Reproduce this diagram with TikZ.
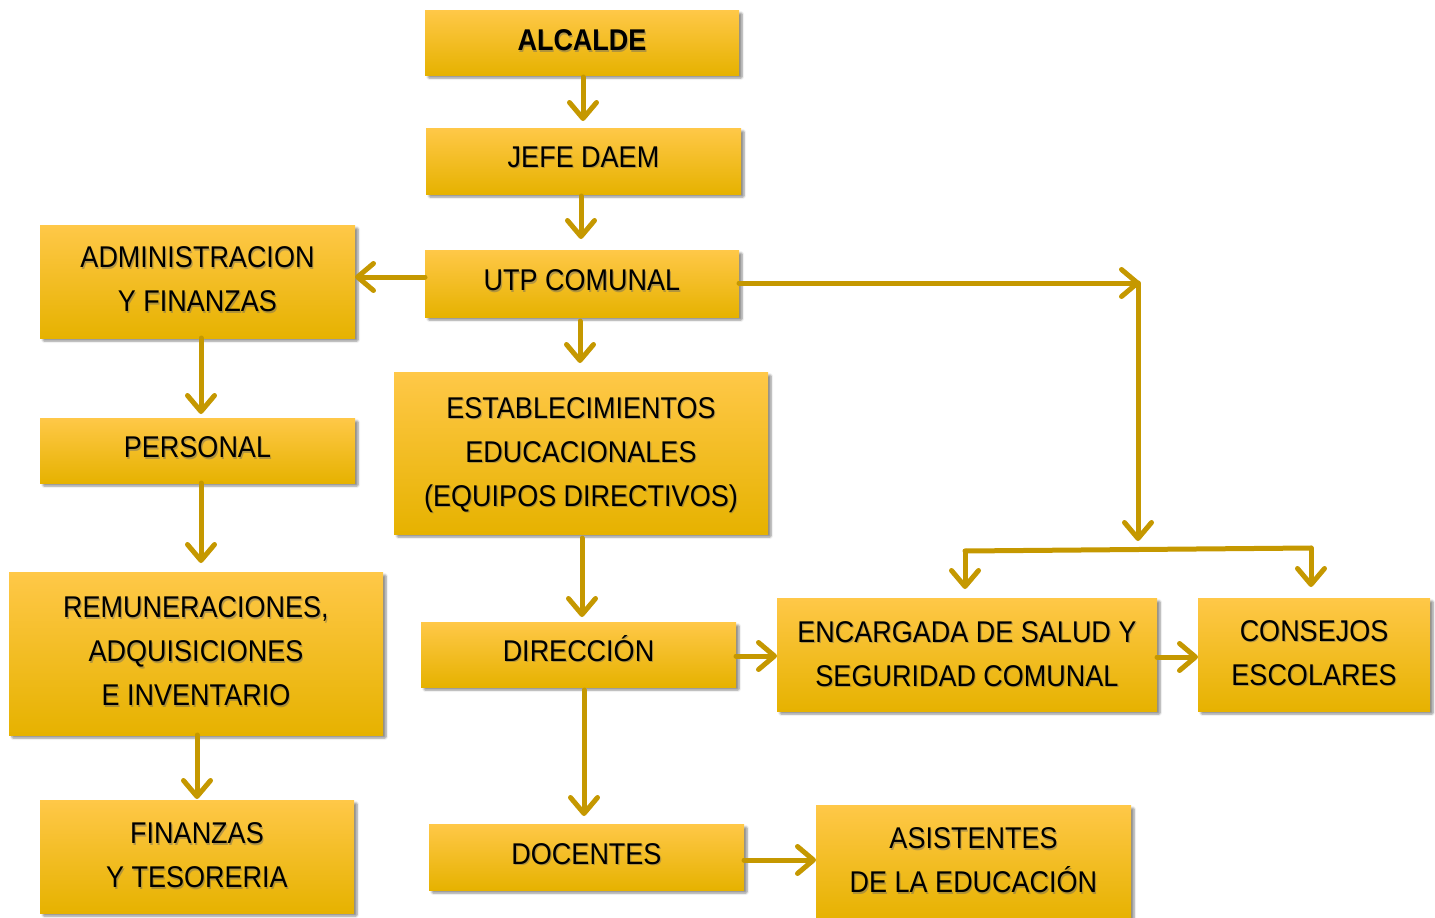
\documentclass[tikz,border=0pt]{standalone}
\usepackage{fontspec}
\setmainfont{Liberation Sans}[FakeStretch=0.9]
\usetikzlibrary{arrows.meta,shadows.blur}
\definecolor{arrc}{RGB}{197,152,0}
\definecolor{boxtop}{RGB}{255,200,72}
\definecolor{boxmid}{RGB}{255,200,0}
\definecolor{boxbot}{RGB}{230,178,0}
\tikzset{
  box/.style={rectangle, inner sep=0pt, outer sep=0pt,
    top color=boxtop, middle color=boxmid, bottom color=boxbot,
    blur shadow={shadow xshift=3pt, shadow yshift=-3pt, shadow blur steps=6, shadow blur extra rounding=1pt, shadow opacity=45}},
  txt/.style={inner sep=0pt, align=center, font=\fontsize{30}{44}\selectfont, text=black},
  tsh/.style={txt, text=black!60, text opacity=0.45},
  arr/.style={draw=arrc, line width=5pt, line cap=round, line join=round,
    -{Straight Barb[length=16pt, width=27pt, round]}},
  ln/.style={draw=arrc, line width=5pt, line cap=round, line join=round}
}
\newcommand{\bx}[7]{%
  \node[box, minimum width={(#4)-(#2)}, minimum height={(#5)-(#3)}] (#1) at ({((#2)+(#4))/2},{((#3)+(#5))/2}) {};
  \node[tsh, xshift=1.2pt, yshift={#7-1.2pt}] at (#1.center) {#6};
  \node[txt, yshift=#7] (#1-t) at (#1.center) {#6};}
\begin{document}
\begin{tikzpicture}[x=1pt,y=-1pt]
\useasboundingbox (0,0) rectangle (1435,918);
\bx{alc}{425}{10}{739}{75}{\textbf{ALCALDE}}{2pt}
\bx{jefe}{426}{128}{741}{194}{JEFE DAEM}{4pt}
\bx{utp}{425}{250}{739}{317}{UTP COMUNAL}{3pt}
\bx{adm}{40}{225}{355}{338}{ADMINISTRACION\\Y FINANZAS}{2pt}
\bx{per}{40}{418}{355}{483}{PERSONAL}{3pt}
\bx{rem}{9}{572}{383}{735}{REMUNERACIONES,\\ADQUISICIONES\\E INVENTARIO}{2pt}
\bx{fin}{40}{800}{354}{913}{FINANZAS\\Y TESORERIA}{1pt}
\bx{est}{394}{372}{768}{534}{ESTABLECIMIENTOS\\EDUCACIONALES\\(EQUIPOS DIRECTIVOS)}{-2pt}
\bx{dir}{421}{622}{736}{687}{DIRECCIÓN}{6pt}
\bx{doc}{429}{824}{744}{890}{DOCENTES}{3pt}
\bx{asi}{816}{805}{1131}{920}{ASISTENTES\\DE LA EDUCACIÓN}{2pt}
\bx{enc}{777}{598}{1157}{711}{ENCARGADA DE SALUD Y\\SEGURIDAD COMUNAL}{0.5pt}
\bx{con}{1198}{598}{1430}{711}{CONSEJOS\\ESCOLARES}{1.5pt}

\coordinate (c1) at (1140,283);
\coordinate (c2) at (1138,541);
\coordinate (b1) at (965,551);
\coordinate (b2) at (1311,548);

\draw[arr] ([yshift=-2pt]alc.south -| 583,0) -- (583,121);
\draw[arr] ([yshift=-2pt]jefe.south -| 581,0) -- (581,239);
\draw[arr] (utp.west |- 0,277) -- (adm.east |- 0,277);
\draw[arr] ([yshift=-4pt]utp.south -| 580,0) -- (580,363);
\draw[arr] (utp.east |- c1) -- (c1);
\draw[arr] (c1 -| c2) -- (c2);
\draw[ln] (b1) -- (b2);
\draw[arr] (b1) -- (965,589);
\draw[arr] (b2) -- (1311,587);
\draw[arr] (adm.south -| 201,0) -- (201,414);
\draw[arr] (per.south -| 201,0) -- (201,563);
\draw[arr] (rem.south -| 197,0) -- (197,799);
\draw[arr] ([yshift=-4pt]est.south -| 582,0) -- (582,617);
\draw[arr] ([yshift=-3pt]dir.south -| 584,0) -- (584,816);
\draw[arr] (dir.east |- 0,656) -- (enc.west |- 0,656);
\draw[arr] (enc.east |- 0,657) -- (con.west |- 0,657);
\draw[arr] (doc.east |- 0,860) -- (asi.west |- 0,860);
\end{tikzpicture}
\end{document}
